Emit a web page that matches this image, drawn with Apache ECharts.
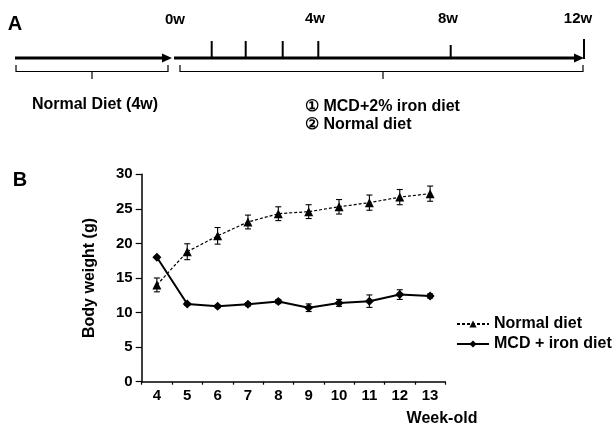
<!DOCTYPE html>
<html>
<head>
<meta charset="utf-8">
<script src="https://cdn.jsdelivr.net/npm/echarts@6/dist/echarts.min.js"></script>
<style>
html,body{margin:0;padding:0;background:#fff;}
#c{width:615px;height:431px;}
</style>
</head>
<body>
<div id="c"></div>
<script>
// ---- data ----
var weeks = ['4','5','6','7','8','9','10','11','12','13'];
var normalMean = [14.0, 18.8, 21.1, 23.1, 24.3, 24.6, 25.3, 25.9, 26.7, 27.2];
var normalErr  = [1.0, 1.15, 1.2, 1.0, 1.0, 1.0, 1.05, 1.1, 1.1, 1.1];
var mcdMean    = [18.0, 11.25, 10.9, 11.2, 11.6, 10.7, 11.4, 11.65, 12.6, 12.4];
var mcdErr     = [0.15, 0.2, 0.2, 0.25, 0.3, 0.55, 0.5, 0.9, 0.7, 0.3];
var yTicks = [0, 5, 10, 15, 20, 25, 30];
var timelineLabels = ['0w', '4w', '8w', '12w'];
var seriesNames = ['Normal diet', 'MCD + iron diet'];

var FONT = '"Liberation Sans", Arial, sans-serif';

function errData(mean, err) {
  return mean.map(function (m, i) { return [i, m - err[i], m + err[i]]; });
}

function errRender(params, api) {
  var x = api.value(0);
  var lo = api.coord([x, api.value(1)]);
  var hi = api.coord([x, api.value(2)]);
  var w = 3;
  var st = { stroke: '#000', lineWidth: 1.1 };
  return {
    type: 'group',
    children: [
      { type: 'line', shape: { x1: lo[0], y1: lo[1], x2: hi[0], y2: hi[1] }, style: st },
      { type: 'line', shape: { x1: lo[0] - w, y1: lo[1], x2: lo[0] + w, y2: lo[1] }, style: st },
      { type: 'line', shape: { x1: hi[0] - w, y1: hi[1], x2: hi[0] + w, y2: hi[1] }, style: st }
    ]
  };
}

var txt = function (t, x, y, size, align) {
  return {
    type: 'text', x: x, y: y,
    style: { text: t, font: 'bold ' + size + 'px ' + FONT, fill: '#000',
             textAlign: align || 'center', textVerticalAlign: 'middle' }
  };
};
var seg = function (x1, y1, x2, y2, w) {
  return { type: 'line', shape: { x1: x1, y1: y1, x2: x2, y2: y2 },
           style: { stroke: '#000', lineWidth: w } };
};
var head = function (tipX, y) {
  return { type: 'polygon', shape: { points: [[tipX, y], [tipX - 10, y - 4.5], [tipX - 10, y + 4.5]] },
           style: { fill: '#000' } };
};
var bracket = function (x1, x2, xm) {
  return [
    { type: 'polyline', shape: { points: [[x1, 65], [x1, 71.5], [x2, 71.5], [x2, 65]] },
      style: { stroke: '#000', lineWidth: 1.2, fill: null } },
    seg(xm, 71.5, xm, 79, 1.2)
  ];
};

var graphics = [
  txt('A', 15, 24, 20),
  txt('B', 20, 180, 20),
  seg(15, 58, 164, 58, 3), head(172, 58),
  seg(174, 58, 576, 58, 3), head(584, 58),
  seg(211.7, 41, 211.7, 58, 2),
  seg(245.7, 41, 245.7, 58, 2),
  seg(282.7, 41, 282.7, 58, 2),
  seg(318.3, 41, 318.3, 58, 2),
  seg(450.7, 45, 450.7, 58, 2),
  seg(584, 39, 584, 59, 2),
  txt(timelineLabels[0], 175, 20, 15),
  txt(timelineLabels[1], 315, 19, 15),
  txt(timelineLabels[2], 448, 19, 15),
  txt(timelineLabels[3], 578, 19, 15),
  txt('Normal Diet (4w)', 95, 105, 16),
  txt('\u2460 MCD+2% iron diet', 305, 107, 16, 'left'),
  txt('\u2461 Normal diet', 305, 125, 16, 'left'),
  txt('Week-old', 442, 419, 16)
].concat(bracket(16, 168, 92)).concat(bracket(180, 583, 383));

var chart = echarts.init(document.getElementById('c'), null, { renderer: 'canvas' });
chart.setOption({
  animation: false,
  backgroundColor: '#fff',
  graphic: graphics,
  grid: { left: 141.7, top: 174.3, width: 303.6, height: 207.4, containLabel: false },
  xAxis: {
    type: 'category', data: weeks, boundaryGap: true,
    axisLine: { lineStyle: { color: '#000', width: 1.5 } },
    axisTick: { show: true, length: 3, lineStyle: { color: '#000', width: 1.2 } },
    axisLabel: { color: '#000', fontWeight: 'bold', fontSize: 15, fontFamily: FONT, margin: 7 },
    splitLine: { show: false }
  },
  yAxis: {
    type: 'value', min: yTicks[0], max: yTicks[yTicks.length - 1], interval: 5,
    name: 'Body weight (g)', nameLocation: 'middle', nameRotate: 90, nameGap: 44,
    nameTextStyle: { color: '#000', fontWeight: 'bold', fontSize: 16, fontFamily: FONT },
    axisLine: { show: true, lineStyle: { color: '#000', width: 1.5 } },
    axisTick: { show: true, length: 6, lineStyle: { color: '#000', width: 1.2 } },
    axisLabel: { color: '#000', fontWeight: 'bold', fontSize: 15, fontFamily: FONT, margin: 9 },
    splitLine: { show: false }
  },
  legend: {
    data: seriesNames, orient: 'vertical', left: 451, top: 311,
    itemWidth: 32, itemHeight: 9, itemGap: 4,
    textStyle: { color: '#000', fontWeight: 'bold', fontSize: 16, fontFamily: FONT }
  },
  series: [
    {
      type: 'custom', name: 'normalErr', renderItem: errRender,
      data: errData(normalMean, normalErr), encode: { x: 0, y: [1, 2] }, z: 1, silent: true
    },
    {
      type: 'custom', name: 'mcdErr', renderItem: errRender,
      data: errData(mcdMean, mcdErr), encode: { x: 0, y: [1, 2] }, z: 1, silent: true
    },
    {
      type: 'line', name: seriesNames[0], data: normalMean,
      symbol: 'triangle', symbolSize: 9,
      lineStyle: { color: '#000', width: 1.2, type: [3, 2] },
      itemStyle: { color: '#000' }, z: 3
    },
    {
      type: 'line', name: seriesNames[1], data: mcdMean,
      symbol: 'diamond', symbolSize: 9,
      lineStyle: { color: '#000', width: 2 },
      itemStyle: { color: '#000' }, z: 3
    }
  ]
});
</script>
</body>
</html>
